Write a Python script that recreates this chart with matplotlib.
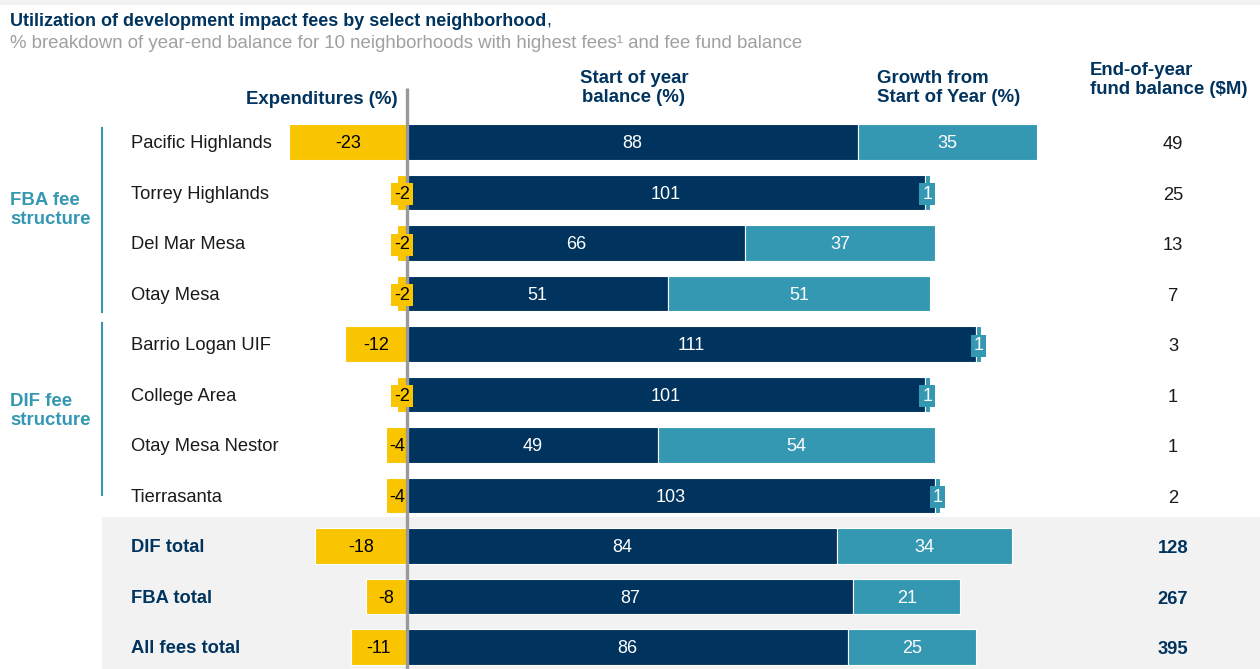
import matplotlib
matplotlib.use("Agg")
import matplotlib.pyplot as plt
from matplotlib.patches import Rectangle

names = ["Pacific Highlands", "Torrey Highlands", "Del Mar Mesa", "Otay Mesa",
         "Barrio Logan UIF", "College Area", "Otay Mesa Nestor", "Tierrasanta",
         "DIF total", "FBA total", "All fees total"]
expenditures = [-23, -2, -2, -2, -12, -2, -4, -4, -18, -8, -11]
start_balance = [88, 101, 66, 51, 111, 101, 49, 103, 84, 87, 86]
growth = [35, 1, 37, 51, 1, 1, 54, 1, 34, 21, 25]
end_balance = [49, 25, 13, 7, 3, 1, 1, 2, 128, 267, 395]
total_rows = {"DIF total", "FBA total", "All fees total"}

NAVY = "#00335e"
TEAL = "#3598b2"
YELLOW = "#f9c500"
GRAY = "#999999"
FONT = ["Liberation Sans", "DejaVu Sans"]
plt.rcParams["font.family"] = FONT

W, H = 1260, 669
fig = plt.figure(figsize=(W / 100, H / 100), dpi=100)
ax = fig.add_axes([0, 0, 1, 1])
PX = 5.125          # pixels per unit
X0 = 407            # pixel of zero
Y0, DY = 142, 50.5  # first row center & spacing
ax.set_xlim(-X0 / PX, (W - X0) / PX)
ax.set_ylim((H - Y0) / DY, -Y0 / DY)
ax.axis("off")

def px(x):
    return (x - X0) / PX

def py(y):
    return (y - Y0) / DY

# top light band
ax.add_patch(Rectangle((px(0), py(0)), W / PX, 5 / DY, color="#f2f2f2", lw=0, zorder=0))
# totals background
ax.add_patch(Rectangle((px(102), py(517)), (W - 102) / PX, (H - 517) / DY,
                       color="#f2f2f2", lw=0, zorder=0))

y = list(range(len(names)))
bh = 0.70
ax.barh(y, expenditures, height=bh, color=YELLOW, edgecolor="white", lw=0.8, zorder=2)
ax.barh(y, start_balance, height=bh, color=NAVY, edgecolor="white", lw=0.8, zorder=2)
ax.barh(y, growth, left=start_balance, height=bh, color=TEAL, edgecolor="white", lw=0.8, zorder=2)

DT = 0.035  # small downward text shift

def label(xc, yc, val, col, txtcol, small):
    kw = dict(ha="center", va="center", fontsize=13, color=txtcol, zorder=4)
    if small:
        kw["bbox"] = dict(boxstyle="square,pad=0.15", fc=col, ec="none")
    ax.text(xc, yc + DT, str(val), **kw)

for i in y:
    e, s, g = expenditures[i], start_balance[i], growth[i]
    label(e / 2, i, e, YELLOW, "black", abs(e) < 4)
    label(s / 2, i, s, NAVY, "white", False)
    label(s + g / 2, i, g, TEAL, "white", g < 4)
    tot = names[i] in total_rows
    ax.text(px(131), i + DT, names[i], ha="left", va="center", fontsize=13.2,
            color=NAVY if tot else "#1a1a1a", fontweight="bold" if tot else "normal", zorder=4)
    ax.text(px(1173), i + DT + 0.02, str(end_balance[i]), ha="center", va="center", fontsize=13.2,
            color=NAVY if tot else "#1a1a1a", fontweight="bold" if tot else "normal", zorder=4)

# zero line
ax.plot([0, 0], [py(88), py(H)], color=GRAY, lw=2.4, zorder=3, solid_capstyle="butt")

# group brackets
ax.plot([px(102), px(102)], [py(128), py(312)], color=TEAL, lw=1.5)
ax.plot([px(102), px(102)], [py(323), py(495)], color=TEAL, lw=1.5)
ax.text(px(10), py(210), "FBA fee\nstructure", ha="left", va="center", fontsize=13.4,
        fontweight="bold", color=TEAL, linespacing=1.15)
ax.text(px(10), py(411), "DIF fee\nstructure", ha="left", va="center", fontsize=13.4,
        fontweight="bold", color=TEAL, linespacing=1.15)

# column headers
hk = dict(fontsize=13.4, fontweight="bold", color=NAVY, linespacing=1.1)
ax.text(px(322), py(99), "Expenditures (%)", ha="center", va="center", **hk)
ax.text(px(634), py(88), "Start of year\nbalance (%)", ha="center", va="center", **hk)
ax.text(px(877), py(88), "Growth from\nStart of Year (%)", ha="left", va="center", **hk)
ax.text(px(1090), py(80), "End-of-year\nfund balance ($M)", ha="left", va="center", **hk)

# titles
title = ax.text(px(10), py(21), "Utilization of development impact fees by select neighborhood",
                ha="left", va="center", fontsize=13, fontweight="bold", color=NAVY)
ax.annotate(",", xy=(1, 0.5), xycoords=title, ha="left", va="center",
            fontsize=13, color=NAVY)
ax.text(px(10), py(43), "% breakdown of year-end balance for 10 neighborhoods with highest fees\u00b9 and fee fund balance",
        ha="left", va="center", fontsize=13.4, color="#a0a0a0")

fig.savefig("out.png", dpi=100)
